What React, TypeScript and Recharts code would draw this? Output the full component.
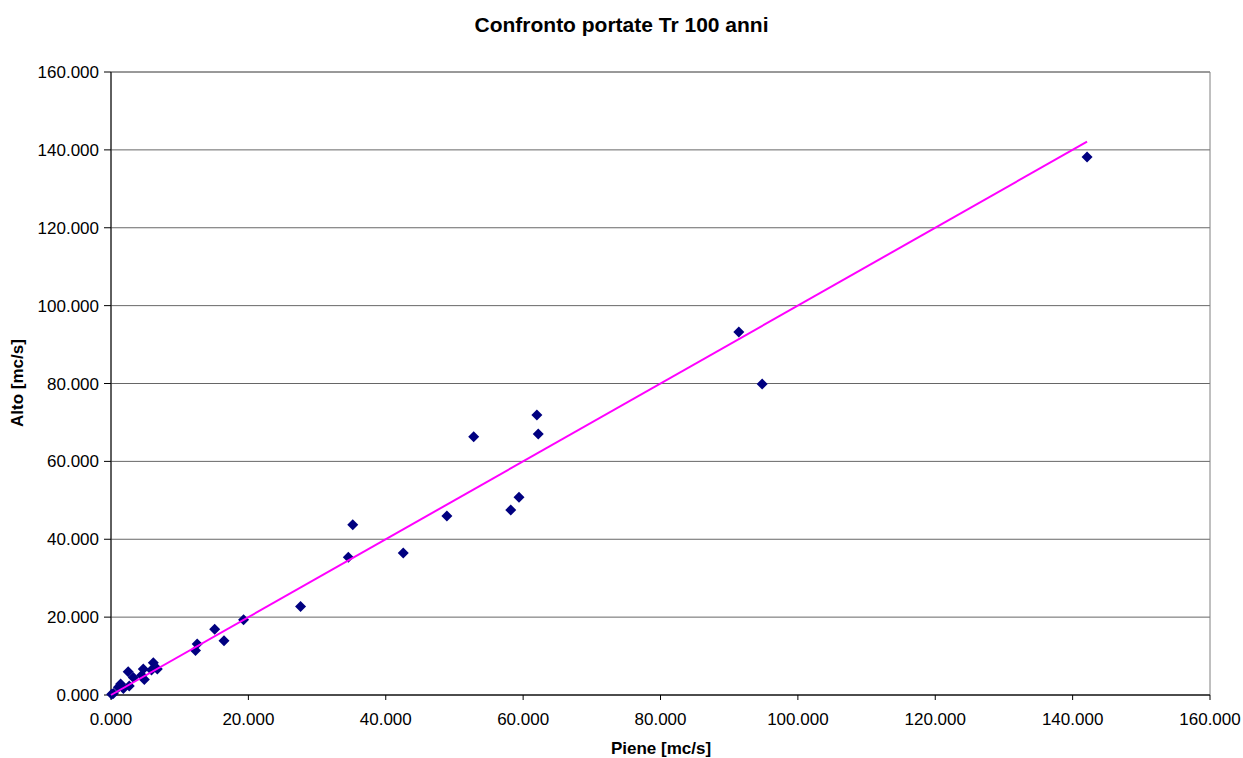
import { ScatterChart, Scatter, XAxis, YAxis, CartesianGrid, ReferenceArea } from 'recharts';

const pieneValues = [0.1, 0.34, 1.07, 1.4, 1.8, 2.5, 2.66, 3.25, 4.47, 4.7, 4.85, 5.9, 6.16, 6.74, 12.3, 12.55, 15.1, 16.45, 19.3, 27.6, 34.55, 35.2, 42.55, 48.9, 52.8, 58.2, 59.4, 62.0, 62.2, 91.4, 94.8, 142.1];
const altoValues = [0.2, 0.4, 2.0, 2.8, 1.7, 6.0, 2.3, 4.5, 5.1, 6.7, 4.0, 6.4, 8.3, 6.7, 11.4, 13.1, 16.9, 13.95, 19.3, 22.7, 35.4, 43.7, 36.5, 46.0, 66.3, 47.5, 50.8, 71.9, 67.0, 93.2, 79.9, 138.2];
const trendX = [0, 142.1];
const ticks = [0, 20, 40, 60, 80, 100, 120, 140, 160];

const points = pieneValues.map((x, i) => ({ x, y: altoValues[i] }));
const trend = trendX.map(x => ({ x, y: x }));

const fmt = (v: number) => v.toFixed(3);
const font = '"Liberation Sans", Arial, sans-serif';

function Diamond(props: any) {
  const { cx, cy } = props;
  const r = 5.5;
  return <polygon points={`${cx},${cy - r} ${cx + r},${cy} ${cx},${cy + r} ${cx - r},${cy}`} fill="#000080" />;
}

export default function App() {
  return (
    <div style={{ position: 'absolute', left: 0, top: 0, width: 1243, height: 758, background: '#fff', fontFamily: font }}>
      <div style={{ position: 'absolute', top: 12, left: 0, width: 1243, textAlign: 'center', fontWeight: 'bold', fontSize: 21, lineHeight: '26px' }}>
        Confronto portate Tr 100 anni
      </div>
      <ScatterChart width={1243} height={758} margin={{ top: 72, right: 33, bottom: 23, left: 31 }}>
        <CartesianGrid horizontal vertical={false} stroke="#000" strokeOpacity={0.6} />
        <ReferenceArea x1={0} x2={160} y1={0} y2={160} fill="none" stroke="#808080" strokeWidth={1} ifOverflow="visible" />
        <XAxis type="number" dataKey="x" domain={[0, 160]} ticks={ticks} tickFormatter={fmt} height={40}
          tick={{ fill: '#000', fontSize: 17, fontFamily: font }} axisLine={{ stroke: '#000' }} tickLine={{ stroke: '#000' }}
          tickSize={5} tickMargin={13} />
        <YAxis type="number" dataKey="y" domain={[0, 160]} ticks={ticks} tickFormatter={fmt} width={80}
          tick={{ fill: '#000', fontSize: 17, fontFamily: font }} axisLine={{ stroke: '#000' }} tickLine={{ stroke: '#000' }}
          tickSize={7} tickMargin={5} />
        <Scatter data={points} shape={<Diamond />} isAnimationActive={false} />
        <Scatter data={trend} line={{ stroke: '#ff00ff', strokeWidth: 2 }} shape={() => null} isAnimationActive={false} />
      </ScatterChart>
      <div style={{ position: 'absolute', top: 738, left: 561, width: 200, textAlign: 'center', fontWeight: 'bold', fontSize: 17, lineHeight: '22px' }}>
        Piene [mc/s]
      </div>
      <div style={{ position: 'absolute', top: 372, left: -82, width: 200, textAlign: 'center', fontWeight: 'bold', fontSize: 17, lineHeight: '22px', transform: 'rotate(-90deg)' }}>
        Alto [mc/s]
      </div>
    </div>
  );
}
